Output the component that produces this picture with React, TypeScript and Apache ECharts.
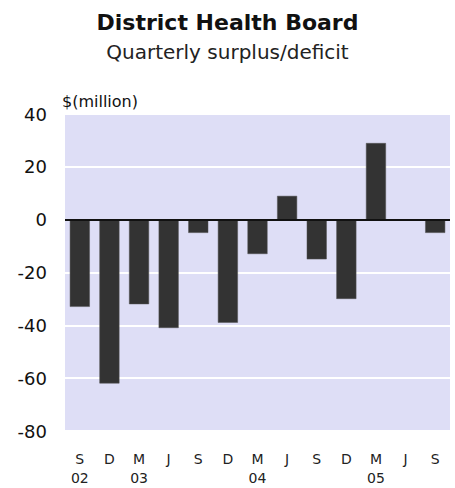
import React, { useEffect, useRef } from "react";
import * as echarts from "echarts";

const months = ["S", "D", "M", "J", "S", "D", "M", "J", "S", "D", "M", "J", "S"];
const years = ["02", "", "03", "", "", "", "04", "", "", "", "05", "", ""];
const surplus = [-33, -62, -32, -41, -5, -39, -13, 9, -15, -30, 29, 0, -5];
const yTicks = { min: -80, max: 40, interval: 20 };

const categories = months.map((m, i) => (years[i] ? `${m}\n${years[i]}` : `${m}\n `));

export default function App() {
  const ref = useRef<HTMLDivElement>(null);
  useEffect(() => {
    if (!ref.current) return;
    const chart = echarts.init(ref.current, null, { renderer: "svg" });
    const font = "'DejaVu Sans', Verdana, sans-serif";
    chart.setOption({
      animation: false,
      backgroundColor: "#ffffff",
      title: {
        text: "District Health Board",
        subtext: "Quarterly surplus/deficit",
        left: "center",
        top: 6,
        itemGap: 9,
        textStyle: { fontFamily: font, fontSize: 22, fontWeight: "bold", color: "#111" },
        subtextStyle: { fontFamily: font, fontSize: 20, color: "#222" },
      },
      grid: {
        left: 65,
        right: 5,
        top: 114,
        bottom: 56,
        show: true,
        backgroundColor: "#dedef6",
        borderWidth: 0,
      },
      xAxis: {
        type: "category",
        data: categories,
        axisLine: { show: false },
        axisTick: { show: false },
        axisLabel: {
          fontFamily: font,
          fontSize: 14,
          color: "#222",
          lineHeight: 19.5,
          margin: 18,
          interval: 0,
        },
      },
      yAxis: {
        type: "value",
        min: yTicks.min,
        max: yTicks.max,
        interval: yTicks.interval,
        name: "$(million)",
        nameLocation: "end",
        nameGap: 5,
        nameTextStyle: {
          fontFamily: font,
          fontSize: 16,
          color: "#111",
          align: "left",
          padding: [0, 0, 0, -3],
        },
        axisLine: { show: false },
        axisTick: { show: false },
        axisLabel: { fontFamily: font, fontSize: 18, color: "#111", margin: 18 },
        splitLine: { show: true, lineStyle: { color: "#ffffff", width: 2 } },
      },
      series: [
        {
          type: "bar",
          data: surplus,
          barWidth: 20,
          itemStyle: { color: "#333333", borderColor: "#555", borderWidth: 0.5 },
          markLine: {
            silent: true,
            symbol: "none",
            label: { show: false },
            lineStyle: { color: "#111", width: 2, type: "solid" },
            data: [{ yAxis: 0 }],
          },
        },
      ],
    });
    return () => chart.dispose();
  }, []);
  return (
    <div
      ref={ref}
      style={{ position: "fixed", left: 0, top: 0, width: 455, height: 488 }}
    />
  );
}
